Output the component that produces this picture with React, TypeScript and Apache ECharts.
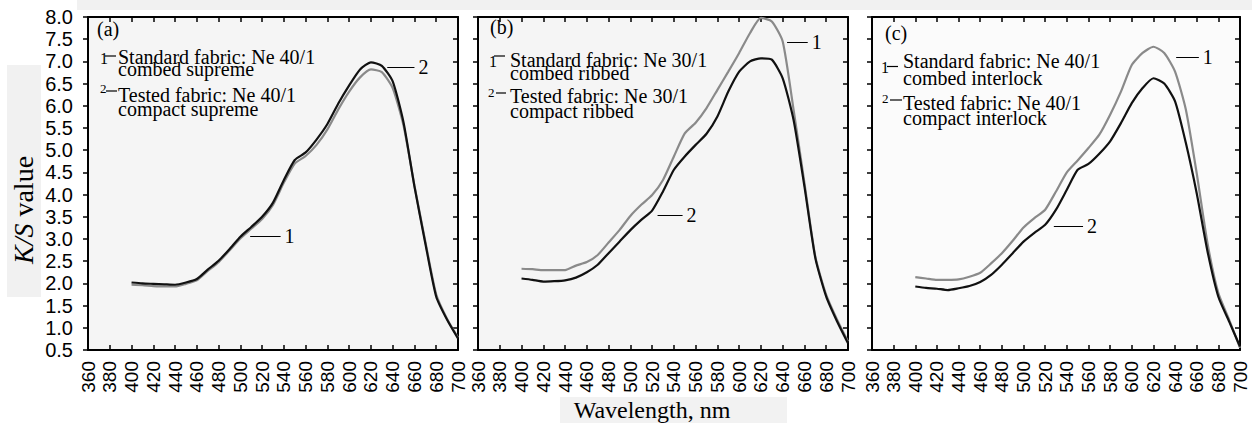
import React, { useEffect, useRef } from "react";
import * as echarts from "echarts";

// ---------- data ----------
const WAVELENGTHS = [400, 410, 420, 430, 440, 450, 460, 470, 480, 490, 500, 510, 520, 530, 540, 550, 560, 570, 580, 590, 600, 610, 620, 630, 640, 650, 660, 670, 680, 690, 700];

// (a) Ne 40/1 supreme
const A_STANDARD = [1.97, 1.96, 1.94, 1.93, 1.93, 1.99, 2.07, 2.28, 2.48, 2.74, 3.01, 3.23, 3.45, 3.77, 4.27, 4.70, 4.87, 5.12, 5.47, 5.92, 6.32, 6.64, 6.82, 6.76, 6.40, 5.55, 4.20, 2.94, 1.75, 1.20, 0.78];
const A_TESTED = [2.02, 2.00, 1.99, 1.98, 1.97, 2.02, 2.10, 2.31, 2.51, 2.77, 3.05, 3.27, 3.50, 3.82, 4.33, 4.78, 4.95, 5.24, 5.59, 6.05, 6.46, 6.82, 6.98, 6.90, 6.55, 5.62, 4.18, 2.90, 1.70, 1.18, 0.76];
// (b) Ne 30/1 ribbed
const B_STANDARD = [2.33, 2.32, 2.30, 2.30, 2.30, 2.40, 2.48, 2.64, 2.92, 3.20, 3.52, 3.77, 3.99, 4.33, 4.86, 5.38, 5.62, 5.95, 6.36, 6.77, 7.19, 7.64, 7.98, 7.90, 7.45, 5.91, 4.26, 2.60, 1.74, 1.18, 0.69];
const B_TESTED = [2.11, 2.08, 2.04, 2.05, 2.07, 2.13, 2.25, 2.42, 2.68, 2.94, 3.20, 3.43, 3.64, 4.07, 4.56, 4.86, 5.12, 5.37, 5.76, 6.32, 6.77, 7.00, 7.07, 7.04, 6.62, 5.68, 4.18, 2.57, 1.70, 1.14, 0.65];
// (c) Ne 40/1 interlock
const C_STANDARD = [2.14, 2.11, 2.08, 2.08, 2.09, 2.15, 2.24, 2.45, 2.68, 2.96, 3.26, 3.47, 3.66, 4.07, 4.50, 4.77, 5.05, 5.35, 5.80, 6.32, 6.92, 7.19, 7.33, 7.19, 6.77, 5.91, 4.48, 2.90, 1.78, 1.18, 0.55];
const C_TESTED = [1.93, 1.90, 1.88, 1.85, 1.89, 1.94, 2.03, 2.19, 2.42, 2.68, 2.94, 3.14, 3.32, 3.66, 4.11, 4.56, 4.69, 4.92, 5.20, 5.61, 6.06, 6.40, 6.62, 6.50, 6.10, 5.16, 4.03, 2.72, 1.70, 1.14, 0.58];

const PANEL_TAGS = ["(a)", "(b)", "(c)"];
const STANDARD_TEXT = [
  ["Standard fabric: Ne 40/1", "combed supreme"],
  ["Standard fabric: Ne 30/1", "combed ribbed"],
  ["Standard fabric: Ne 40/1", "combed interlock"],
];
const TESTED_TEXT = [
  ["Tested fabric: Ne 40/1", "compact supreme"],
  ["Tested fabric: Ne 30/1", "compact ribbed"],
  ["Tested fabric: Ne 40/1", "compact interlock"],
];
// curve call-outs: [label, x1 (nm), x2 (nm), K/S]
const CALLOUTS = [
  [["1", 509, 537, 3.07], ["2", 635, 660, 6.87]],
  [["1", 644, 663, 7.44], ["2", 525, 548, 3.54]],
  [["1", 641, 662, 7.10], ["2", 528, 555, 3.29]],
];

const X_MIN = 360, X_MAX = 700, X_STEP = 20;
const Y_MIN = 0.5, Y_MAX = 8.0, Y_STEP = 0.5;

// ---------- layout ----------
const GRIDS = [
  { left: 88, width: 370, bg: "#f5f5f5" },
  { left: 478, width: 370, bg: "#f5f5f5" },
  { left: 872, width: 368, bg: "#fbfbfb" },
];
const GRID_TOP = 17, GRID_H = 333;

// baselines: [std line1, std line spacing, tested line1, tested line spacing]
const LEG = [
  { tagX: 97, tagBase: 36, textX: 118, std: [63.5, 12.8], tst: [101.7, 14.3], n1: [100, 63.5], d1: [105, 116, 56], n2: [100, 93], d2: [106, 117, 91] },
  { tagX: 490, tagBase: 34, textX: 510, std: [66.7, 13], tst: [103, 15], n1: [489, 67], d1: [494, 505, 56], n2: [488, 97], d2: [496, 506, 93] },
  { tagX: 885, tagBase: 39.5, textX: 903, std: [67.8, 16.5], tst: [110, 14.5], n1: [881, 73], d1: [887, 898, 66.5], n2: [882, 103], d2: [890, 902, 100] },
];

const SERIF = "Liberation Serif";
const SANS = "Liberation Sans";
const C = 0.34; // distance from alphabetic to central baseline, in em

function txt(x: number, baseline: number, text: string, size: number) {
  return {
    type: "text", x, y: baseline - C * size, silent: true,
    style: {
      text, fontFamily: SERIF, fontSize: size, fill: "#000",
      align: "left", verticalAlign: "middle", textAlign: "left", textVerticalAlign: "middle",
    },
  };
}

function block(x: number, baseline1: number, lh: number, lines: string[], size: number) {
  return {
    type: "text", x, y: baseline1 - C * size - lh / 2, silent: true,
    style: {
      text: lines.join("\n"), fontFamily: SERIF, fontSize: size, lineHeight: lh, fill: "#000",
      align: "left", verticalAlign: "top", textAlign: "left", textVerticalAlign: "top",
    },
  };
}

export default function App() {
  const ref = useRef<HTMLDivElement>(null);
  useEffect(() => {
    if (!ref.current) return;
    const chart = echarts.init(ref.current, undefined, { renderer: "svg" });

    const pairs = (arr: number[]) => WAVELENGTHS.map((w, i) => [w, arr[i]]);
    const std = [A_STANDARD, B_STANDARD, C_STANDARD];
    const tst = [A_TESTED, B_TESTED, C_TESTED];

    const grid: any[] = [];
    const xAxis: any[] = [];
    const yAxis: any[] = [];
    const series: any[] = [];
    const axisLine = { show: true, onZero: false, lineStyle: { color: "#000", width: 2 } };
    const tick = (inside: boolean) => ({ show: true, inside, length: 5, lineStyle: { color: "#000", width: 1.5 } });

    GRIDS.forEach((g, i) => {
      grid.push({
        left: g.left, top: GRID_TOP, width: g.width, height: GRID_H,
        show: true, backgroundColor: g.bg, borderWidth: 0,
      });
      xAxis.push({
        gridIndex: i, type: "value", position: "bottom", min: X_MIN, max: X_MAX, interval: X_STEP,
        axisLine, axisTick: tick(true),
        axisLabel: { show: true, rotate: 90, margin: 11, fontFamily: SANS, fontSize: 19, color: "#000" },
        splitLine: { show: false },
      });
      xAxis.push({
        gridIndex: i, type: "value", position: "top", min: X_MIN, max: X_MAX, interval: X_STEP,
        axisLine, axisTick: tick(true), axisLabel: { show: false }, splitLine: { show: false },
      });
      yAxis.push({
        gridIndex: i, type: "value", position: "left", min: Y_MIN, max: Y_MAX, interval: Y_STEP,
        axisLine, axisTick: tick(false),
        axisLabel: {
          show: i === 0, margin: 15, fontFamily: SANS, fontSize: 20, color: "#000",
          formatter: (v: number) => v.toFixed(1),
        },
        splitLine: { show: false },
      });
      yAxis.push({
        gridIndex: i, type: "value", position: "right", min: Y_MIN, max: Y_MAX, interval: Y_STEP,
        axisLine, axisTick: tick(true), axisLabel: { show: false }, splitLine: { show: false },
      });

      series.push({
        type: "line", name: "Standard " + PANEL_TAGS[i], xAxisIndex: i * 2, yAxisIndex: i * 2,
        data: pairs(std[i]), showSymbol: false, symbol: "none", smooth: 0.2,
        lineStyle: { color: "#8a8a8a", width: 2.2 }, z: 2,
      });
      series.push({
        type: "line", name: "Tested " + PANEL_TAGS[i], xAxisIndex: i * 2, yAxisIndex: i * 2,
        data: pairs(tst[i]), showSymbol: false, symbol: "none", smooth: 0.2,
        lineStyle: { color: "#111", width: 2.2 }, z: 3,
        markLine: {
          silent: true, symbol: ["none", "none"], animation: false,
          lineStyle: { color: "#000", width: 1, type: "solid" },
          label: { show: true, position: "end", formatter: "{b}", distance: 4, fontFamily: SERIF, fontSize: 20, color: "#000" },
          emphasis: { disabled: true },
          data: CALLOUTS[i].map((c: any) => [
            { name: c[0], coord: [c[1], c[3]] },
            { coord: [c[2], c[3]] },
          ]),
        },
      });
    });

    const graphic: any[] = [
      { type: "rect", silent: true, z: -10, shape: { x: 77, y: 0, width: 1175, height: 10 }, style: { fill: "#f1f1f1" } },
      { type: "rect", silent: true, z: -10, shape: { x: 7, y: 65, width: 34, height: 232 }, style: { fill: "#f1f1f1" } },
      { type: "rect", silent: true, z: -10, shape: { x: 560, y: 397, width: 227, height: 26 }, style: { fill: "#f2f2f2" } },
      {
        type: "text", x: 23, y: 210, rotation: Math.PI / 2, silent: true,
        style: {
          text: "{i|K/S} value", fontFamily: SERIF, fontSize: 28, fill: "#000",
          align: "center", verticalAlign: "middle", textAlign: "center", textVerticalAlign: "middle",
          rich: { i: { fontStyle: "italic", fontFamily: SERIF, fontSize: 28, fill: "#000" } },
        },
      },
      {
        type: "text", x: 652, y: 410, silent: true,
        style: {
          text: "Wavelength, nm", fontFamily: SERIF, fontSize: 24, fill: "#000",
          align: "center", verticalAlign: "middle", textAlign: "center", textVerticalAlign: "middle",
        },
      },
    ];

    LEG.forEach((L, i) => {
      graphic.push(txt(L.tagX, L.tagBase, PANEL_TAGS[i], 20));
      graphic.push(block(L.textX, L.std[0], L.std[1], STANDARD_TEXT[i], 20));
      graphic.push(block(L.textX, L.tst[0], L.tst[1], TESTED_TEXT[i], 20));
      graphic.push(txt(L.n1[0], L.n1[1], "1", 16));
      graphic.push(txt(L.n2[0], L.n2[1], "2", 13));
      graphic.push({ type: "line", silent: true, shape: { x1: L.d1[0], y1: L.d1[2], x2: L.d1[1], y2: L.d1[2] }, style: { stroke: "#000", lineWidth: 1.2 } });
      graphic.push({ type: "line", silent: true, shape: { x1: L.d2[0], y1: L.d2[2], x2: L.d2[1], y2: L.d2[2] }, style: { stroke: "#000", lineWidth: 1.2 } });
    });

    chart.setOption({
      animation: false,
      backgroundColor: "#ffffff",
      grid, xAxis, yAxis, series, graphic,
    });
    return () => chart.dispose();
  }, []);

  return (
    <div
      ref={ref}
      style={{ position: "fixed", left: 0, top: 0, width: 1252, height: 423, background: "#fff" }}
    />
  );
}
